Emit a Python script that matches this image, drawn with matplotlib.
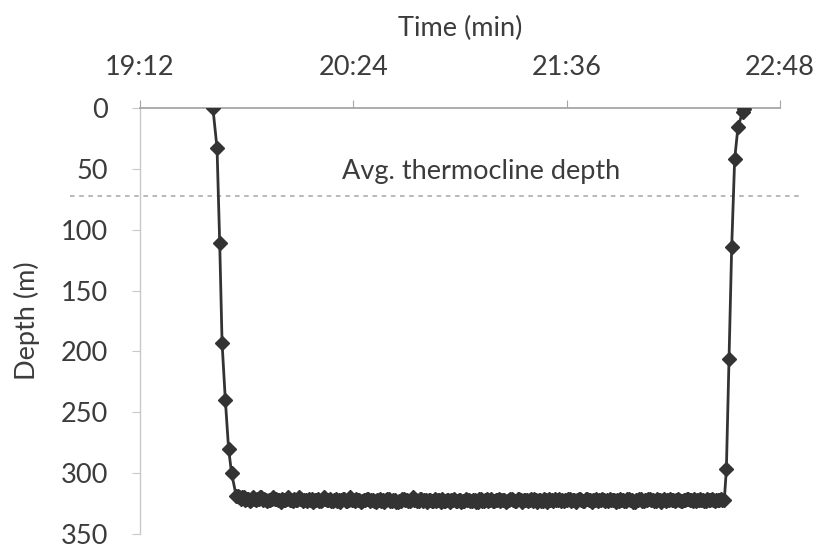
import numpy as np
import matplotlib
matplotlib.use('Agg')
import matplotlib.pyplot as plt
from matplotlib.ticker import FuncFormatter

plt.rcParams['font.family'] = ['Lato', 'DejaVu Sans']

# 하강 구간 (분, m)
descent_min = [1176.6, 1178.0, 1178.9, 1179.7, 1180.8, 1181.9, 1182.9, 1184.5]
descent_depth = [0, 33, 111, 193, 240, 280, 300, 319]

# 바닥 구간: 30초 간격 기록
bottom_start = 1185.0
bottom_step = 0.5
bottom_depth = [
    319, 320, 321, 320, 320, 322, 321, 321, 323, 322, 320, 321, 322, 321, 321, 320, 320, 322, 321, 322,
    323, 322, 322, 321, 320, 321, 321, 322, 322, 324, 321, 322, 322, 321, 320, 322, 322, 323, 321, 322,
    322, 320, 321, 321, 323, 322, 322, 323, 321, 322, 321, 324, 322, 322, 321, 323, 323, 322, 320, 321,
    322, 322, 321, 323, 323, 322, 321, 323, 322, 324, 322, 321, 321, 323, 323, 322, 320, 322, 322, 323,
    321, 322, 322, 324, 323, 322, 322, 321, 321, 323, 322, 322, 323, 324, 322, 322, 321, 323, 322, 324,
    322, 321, 321, 323, 323, 322, 322, 324, 324, 323, 323, 321, 321, 322, 322, 323, 323, 322, 320, 322,
    322, 323, 323, 321, 321, 323, 322, 322, 324, 322, 322, 323, 323, 321, 323, 322, 322, 324, 321, 323,
    323, 322, 322, 324, 322, 322, 321, 323, 323, 322, 322, 324, 323, 323, 321, 322, 322, 323, 323, 322,
    322, 324, 324, 321, 321, 323, 323, 322, 321, 323, 322, 321, 323, 323, 322, 322, 321, 323, 322, 322,
    322, 324, 323, 322, 321, 321, 322, 323, 323, 321, 321, 322, 324, 322, 322, 322, 323, 322, 321, 323,
    321, 322, 324, 322, 322, 323, 323, 321, 322, 324, 321, 322, 322, 323, 321, 322, 322, 321, 323, 322,
    323, 322, 322, 321, 321, 323, 322, 322, 324, 322, 321, 321, 322, 323, 323, 321, 321, 322, 322, 324,
    322, 322, 321, 323, 322, 322, 321, 322, 323, 322, 323, 321, 322, 322, 322, 324, 322, 323, 321, 322,
    322, 323, 323, 321, 321, 322, 322, 324, 324, 322, 322, 321, 321, 323, 323, 322, 322, 321, 321, 322,
    322, 323, 323, 321, 322, 322, 324, 322, 321, 323, 322, 322, 321, 322, 322, 323, 322, 321, 322, 323,
    323, 322, 322, 321, 321, 322, 322, 323, 321, 323, 322, 322, 321, 322, 322, 323, 323, 321, 322, 322,
    321, 322, 323, 322, 322, 322, 321, 322,
]

# 상승 구간
ascent_min = [1349.2, 1349.9, 1350.8, 1351.7, 1352.7, 1353.8, 1355.4, 1356.0]
ascent_depth = [322, 297, 206, 114, 42, 16, 3, 1]

thermocline_depth = 72
x_ticks = [1152, 1224, 1296, 1368]
y_ticks = [0, 50, 100, 150, 200, 250, 300, 350]

bottom_min = bottom_start + bottom_step * np.arange(len(bottom_depth))
t = np.concatenate([descent_min, bottom_min, ascent_min])
d = np.concatenate([descent_depth, bottom_depth, ascent_depth])

text_c = '#3c3c3c'
fs = 19.5
fig = plt.figure(figsize=(8.16, 5.48), dpi=100)
ax = fig.add_axes([140 / 816, 1 - 534 / 548, 640 / 816, 426 / 548])

ax.plot(t, d, color='#333333', lw=2, marker='D', ms=7, zorder=3)

ax.axhline(thermocline_depth, xmin=-0.109, xmax=1.034, clip_on=False,
           color='#a6a6a6', ls=(0, (3, 3)), lw=1.1)
ax.text(1267, 52, 'Avg. thermocline depth', ha='center', va='center',
        fontsize=fs, color=text_c)

ax.set_xlim(1152, 1368)
ax.set_ylim(350, 0)
ax.set_xticks(x_ticks)
ax.set_yticks(y_ticks)
ax.xaxis.set_major_formatter(FuncFormatter(lambda x, pos: f"{int(x // 60)}:{int(x % 60):02d}"))
ax.xaxis.tick_top()
ax.xaxis.set_label_position('top')

for s in ['right', 'bottom']:
    ax.spines[s].set_visible(False)
ax.spines['top'].set_color('#a6a6a6')
ax.spines['top'].set_linewidth(1.3)
ax.spines['left'].set_color('#c8c8c8')
ax.spines['left'].set_linewidth(1.0)

ax.tick_params(axis='x', colors='#a6a6a6', labelcolor=text_c, labelsize=fs,
               length=6, pad=14, direction='out')
ax.tick_params(axis='y', colors='#c8c8c8', labelcolor=text_c, labelsize=fs,
               length=6, pad=17, direction='out')

ax.set_xlabel('Time (min)', fontsize=fs, color=text_c, labelpad=14)
ax.set_ylabel('Depth (m)', fontsize=fs, color=text_c, labelpad=15)

fig.savefig('out.png', dpi=100)
